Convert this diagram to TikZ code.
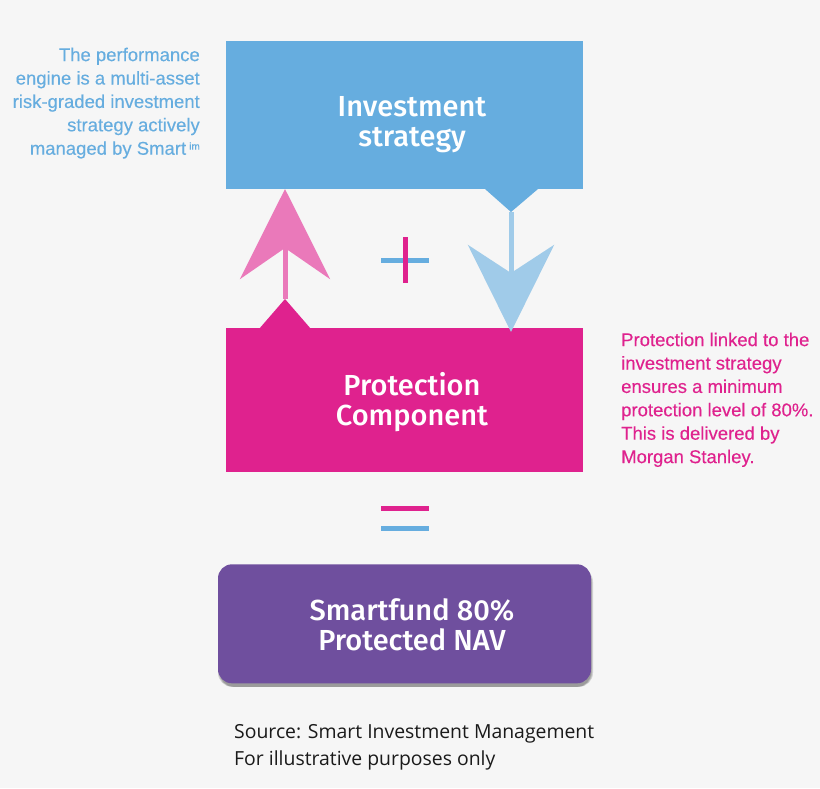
\documentclass[tikz,border=0pt]{standalone}
\usepackage{fontspec}
\setmainfont{Fira Sans}
\newfontfamily\panelfont{Fira Sans}[UprightFont=* Medium]
\newfontfamily\notefont{Liberation Sans}[FakeBold=0.25]
\newfontfamily\sourcefont{Open Sans}
\usetikzlibrary{positioning,arrows.meta,shadows}
\definecolor{stratblue}{HTML}{66ADDF}
\definecolor{stratlight}{HTML}{A0CBE9}
\definecolor{protpink}{HTML}{DF228E}
\definecolor{protlight}{HTML}{EA79BA}
\definecolor{fundpurple}{HTML}{6F4F9E}
\definecolor{pagegrey}{HTML}{F6F6F6}
\definecolor{sourceink}{HTML}{1A1A1A}
\tikzset{
  panel/.style={inner sep=0pt},
  paneltext/.style={align=center,text=white,font=\fontsize{29}{30}\selectfont\panelfont,inner sep=0pt},
  note/.style={font=\fontsize{18.5}{23.4}\selectfont\notefont,inner sep=0pt},
  bar/.style={line width=5pt},
  softshadow/.style={drop shadow={shadow xshift=#1,shadow yshift=-3.5pt,fill=black,opacity=.14}},
}
\begin{document}
\begin{tikzpicture}[x=1pt,y=-1pt]
  \fill[pagegrey] (0,0) rectangle (820,788);
  \useasboundingbox (0,0) rectangle (820,788);
  \node (strategy) [panel,fill=stratblue,minimum width=357pt,minimum height=148pt,
    label={[paneltext,xshift=7.5pt,yshift=-10pt]center:Investment\\strategy}] at (404.5,115) {};
  \node (component) [panel,fill=protpink,minimum width=357pt,minimum height=144pt,below=139pt of strategy,
    label={[paneltext,xshift=7.5pt,yshift=-1.5pt]center:Protection\\Component}] {};
  \node (fund) [panel,fill=fundpurple,minimum width=373pt,minimum height=119pt,rounded corners=14pt,below=91.5pt of component,
    softshadow=0pt,softshadow=1pt,softshadow=2pt,
    label={[paneltext,xshift=7.5pt,yshift=-1pt]center:Smartfund 80\%\\Protected NAV}] {};
  % callouts on the two boxes
  \coordinate (stratpoint) at (511,212);
  \coordinate (comppoint) at (285,299);
  \fill[stratblue] (485,189) -- (538,189) -- (stratpoint) -- cycle;
  \fill[protpink] (259,329) -- (311,329) -- (comppoint) -- cycle;
  % arrows between them
  \coordinate (strattip) at (285,189);
  \coordinate (comptip) at (511,332);
  \draw[line width=5pt,draw=stratlight,fill=stratlight,-{Stealth[length=87pt,width=86pt,inset=28pt]}] (stratpoint) -- (comptip);
  \draw[line width=5pt,draw=protlight,fill=protlight,-{Stealth[length=90pt,width=90pt,inset=31pt]}] (comppoint) -- (strattip);
  % plus and equals
  \draw[bar,stratblue] (381,260) -- (429,260);
  \draw[bar,protpink] (405,237) -- (405,283);
  \draw[bar,protpink] (381,508.5) -- (429,508.5);
  \draw[bar,stratblue] (381,528.5) -- (429,528.5);
  % side notes
  \node (perf) [note,text=stratblue,align=right,anchor=north east] at (200,47.5)
    {The performance\\engine is a multi-asset\\risk-graded investment\hspace*{2pt}\\strategy actively\hspace*{2pt}\\managed by Smart\,\raisebox{5pt}{\fontsize{10}{10}\selectfont im}};
  \node (prot) [note,text=protpink,align=left,anchor=north west] at (621,332.5)
    {Protection linked to the\\investment strategy\\ensures a minimum\\protection level of 80\%.\\This is delivered by\\Morgan Stanley.};
  \node (source) [font=\fontsize{19.4}{27}\selectfont\sourcefont,text=sourceink,align=left,anchor=north west,inner sep=0pt] at (234,724)
    {Source: Smart Investment Management\\For illustrative purposes only};
\end{tikzpicture}
\end{document}
